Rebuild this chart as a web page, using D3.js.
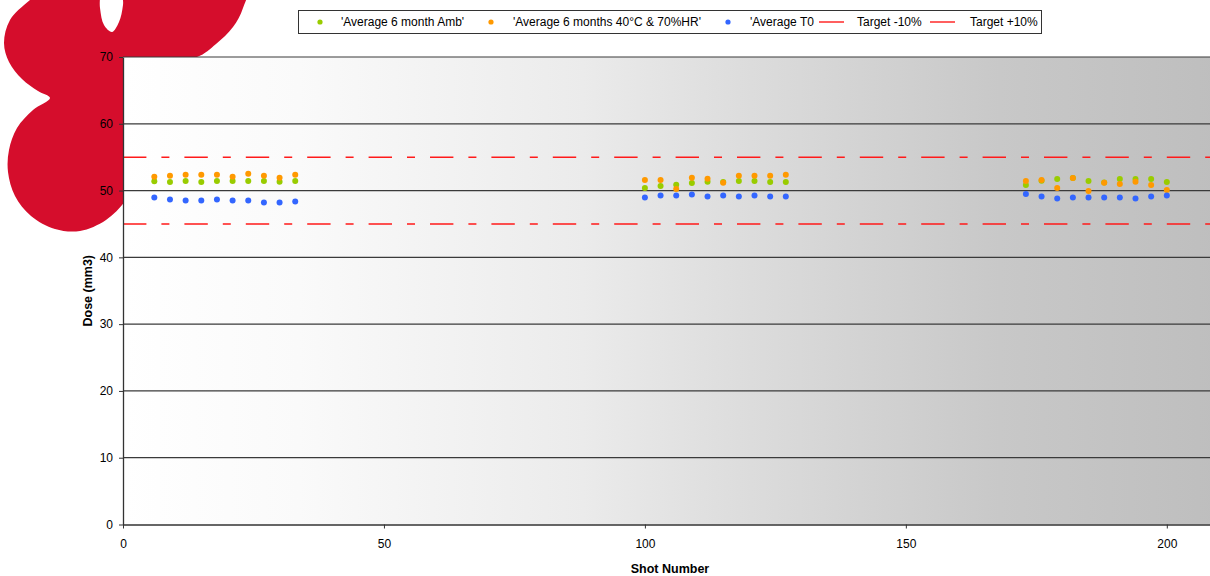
<!DOCTYPE html>
<html>
<head>
<meta charset="utf-8">
<script src="https://cdn.jsdelivr.net/npm/d3@7"></script>
<style>
  html, body { margin: 0; padding: 0; background: #ffffff; }
  svg { display: block; font-family: "Liberation Sans", Arial, sans-serif; }
</style>
</head>
<body>
<div id="chart"></div>
<script>
// values
const shotNumbers = [
  6, 9, 12, 15, 18, 21, 24, 27, 30, 33,
  100, 103, 106, 109, 112, 115, 118, 121, 124, 127,
  173, 176, 179, 182, 185, 188, 191, 194, 197, 200
];
const avgAmb = [
  51.38, 51.27, 51.42, 51.27, 51.42, 51.42, 51.42, 51.42, 51.32, 51.42,
  50.37, 50.67, 50.87, 51.12, 51.32, 51.27, 51.42, 51.42, 51.27, 51.27,
  50.82, 51.47, 51.72, 51.87, 51.42, 51.22, 51.72, 51.72, 51.72, 51.27
];
const avg40C = [
  52.07, 52.22, 52.37, 52.37, 52.37, 52.07, 52.51, 52.22, 51.92, 52.37,
  51.57, 51.57, 50.22, 51.92, 51.77, 51.17, 52.22, 52.22, 52.22, 52.37,
  51.42, 51.57, 50.37, 51.87, 49.93, 51.17, 50.97, 51.32, 50.82, 50.07
];
const avgT0 = [
  48.98, 48.68, 48.53, 48.53, 48.68, 48.53, 48.53, 48.23, 48.23, 48.38,
  48.98, 49.28, 49.28, 49.43, 49.13, 49.28, 49.13, 49.28, 49.13, 49.13,
  49.48, 49.13, 48.83, 48.98, 48.98, 48.98, 48.98, 48.83, 49.13, 49.28
];
const targets = [45, 55];
const xTicks = [0, 50, 100, 150, 200];
const yTicks = [0, 10, 20, 30, 40, 50, 60, 70];
const seriesNames = ["'Average 6 month Amb'", "'Average 6 months 40°C & 70%HR'", "'Average T0"];
const targetNames = ["Target -10%", "Target +10%"];

const width = 1210, height = 576;
const plot = { left: 123, top: 57, right: 1219, bottom: 524.5 };
const colors = ["#99cc00", "#ff9900", "#3366ff"];
const red = "#ff1a1a";

const svg = d3.select("#chart").append("svg")
  .attr("width", width)
  .attr("height", height)
  .attr("viewBox", `0 0 ${width} ${height}`);

const x = d3.scaleLinear().domain([0, 210]).range([plot.left, plot.right]);
const y = d3.scaleLinear().domain([0, 70]).range([plot.bottom, plot.top]);

// red logo blob behind the chart (top left corner)
const blob = [
  [70, -30], [30, 0], [10, 20], [4, 43], [9, 62], [22, 79], [38, 91], [50, 98],
  [33, 110], [17, 128], [9, 150], [8, 172], [15, 196], [31, 216], [55, 229],
  [80, 231], [106, 220], [126, 200], [150, 160], [150, 62], [197, 57],
  [216, 44], [233, 27], [243, 8], [250, -30], [124, -30], [123, 5],
  [119, 22], [112, 32], [104, 25], [100, 8], [98, -30]
];
svg.append("path")
  .attr("d", d3.line().curve(d3.curveCatmullRomClosed.alpha(0.5))(blob))
  .attr("fill", "#d50d2c");

// plot area with horizontal white -> grey gradient
const grad = svg.append("defs").append("linearGradient")
  .attr("id", "bg")
  .attr("x1", "0%").attr("x2", "100%").attr("y1", "0%").attr("y2", "0%");
[[0, "#ffffff"], [0.16, "#fafafa"], [0.3, "#f2f2f2"], [0.42, "#ebebeb"],
 [0.53, "#e0e0e0"], [0.65, "#d5d5d5"], [0.8, "#c8c8c8"], [1, "#bebebe"]]
  .forEach(s => grad.append("stop").attr("offset", s[0]).attr("stop-color", s[1]));

svg.append("rect")
  .attr("x", plot.left).attr("y", plot.top)
  .attr("width", plot.right - plot.left)
  .attr("height", plot.bottom - plot.top)
  .attr("fill", "url(#bg)");

// horizontal grid lines
svg.append("g").selectAll("line")
  .data(yTicks.filter(d => d > 0))
  .enter().append("line")
  .attr("x1", plot.left).attr("x2", plot.right)
  .attr("y1", d => y(d)).attr("y2", d => y(d))
  .attr("stroke", "#3a3a3a")
  .attr("stroke-width", 1.2);

// target lines, long dash / short dash
svg.append("g").selectAll("line")
  .data(targets)
  .enter().append("line")
  .attr("x1", plot.left).attr("x2", plot.right)
  .attr("y1", d => y(d)).attr("y2", d => y(d))
  .attr("stroke", red)
  .attr("stroke-width", 1.4)
  .attr("stroke-dasharray", "23.4,15,8,15");

// axes
const yAxis = svg.append("g")
  .attr("transform", `translate(${plot.left},0)`)
  .call(d3.axisLeft(y).tickValues(yTicks).tickSize(4).tickSizeOuter(0).tickPadding(6));
const xAxis = svg.append("g")
  .attr("transform", `translate(0,${plot.bottom})`)
  .call(d3.axisBottom(x).tickValues(xTicks).tickSize(4).tickSizeOuter(0).tickPadding(11));

[yAxis, xAxis].forEach(a => {
  a.select(".domain").attr("stroke", "#333").attr("stroke-width", 1.3);
  a.selectAll(".tick line").attr("stroke", "#333");
  a.selectAll(".tick text")
    .attr("fill", "#000")
    .attr("font-size", 12)
    .attr("font-family", "Liberation Sans, Arial, sans-serif");
});

// axis titles
svg.append("text")
  .attr("transform", `translate(${x(105) - 1},573)`)
  .attr("text-anchor", "middle")
  .attr("font-size", 12.5)
  .attr("font-weight", "bold")
  .text("Shot Number");
svg.append("text")
  .attr("transform", `translate(92,${(plot.top + plot.bottom) / 2}) rotate(-90)`)
  .attr("text-anchor", "middle")
  .attr("font-size", 12.5)
  .attr("font-weight", "bold")
  .text("Dose (mm3)");

// scatter series, drawn in legend order
[avgAmb, avg40C, avgT0].forEach((vals, i) => {
  svg.append("g").selectAll("circle")
    .data(shotNumbers.map((s, j) => [s, vals[j]]))
    .enter().append("circle")
    .attr("cx", d => x(d[0]))
    .attr("cy", d => y(d[1]))
    .attr("r", 3)
    .attr("fill", colors[i]);
});

// legend
const legend = svg.append("g");
legend.append("rect")
  .attr("x", 298.5).attr("y", 10.5)
  .attr("width", 743).attr("height", 23)
  .attr("fill", "#fff")
  .attr("stroke", "#333");

const dotX = [320, 491, 728];
const dotTextX = [341, 513, 750];
seriesNames.forEach((name, i) => {
  legend.append("circle")
    .attr("cx", dotX[i]).attr("cy", 22)
    .attr("r", 2.6)
    .attr("fill", colors[i]);
  legend.append("text")
    .attr("x", dotTextX[i]).attr("y", 26.2)
    .attr("font-size", 12)
    .text(name);
});

const lineX = [819, 930];
const lineTextX = [857, 970];
targetNames.forEach((name, i) => {
  legend.append("line")
    .attr("x1", lineX[i]).attr("x2", lineX[i] + 25)
    .attr("y1", 22).attr("y2", 22)
    .attr("stroke", red)
    .attr("stroke-width", 1.4);
  legend.append("text")
    .attr("x", lineTextX[i]).attr("y", 26.2)
    .attr("font-size", 12)
    .text(name);
});
</script>
</body>
</html>
